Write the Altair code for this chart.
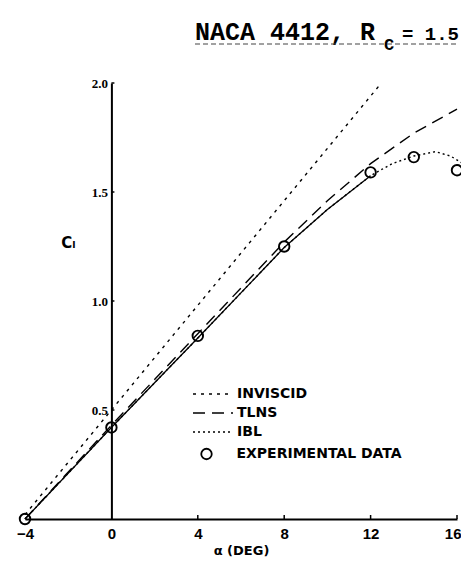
import altair as alt
import pandas as pd

# ---- data ----
alpha_exp = [-4, 0, 4, 8, 12, 14, 16]
cl_exp = [0.0, 0.42, 0.84, 1.25, 1.59, 1.66, 1.60]

alpha_inv = [-4, 12.5]
cl_inv = [0.02, 2.0]

alpha_tlns = [-4, 0, 4, 8, 10, 12, 14, 16]
cl_tlns = [0.0, 0.43, 0.85, 1.27, 1.46, 1.63, 1.77, 1.88]

alpha_ibl = [-4, 0, 4, 8, 10, 12, 13, 14, 15, 15.7, 16.2]
cl_ibl = [0.0, 0.42, 0.83, 1.245, 1.42, 1.575, 1.63, 1.665, 1.685, 1.665, 1.635]
ibl_solid_end = 12

x_label_vals = [-4, 0, 4, 8, 12, 16]
x_tick_vals = [4, 8, 12, 16]
y_tick_vals = [0.5, 1.0, 1.5, 2.0]
x_domain = [-4, 16]
y_domain = [0, 2.0]

series_names = ["INVISCID", "TLNS", "IBL"]
exp_name = "EXPERIMENTAL DATA"
title_main = "NACA 4412, R"
title_sub = "C"
title_tail = "= 1.5"

W, H = 432, 436

# ---- tables ----
rows = []
for name, xs, ys in [("INVISCID", alpha_inv, cl_inv), ("TLNS", alpha_tlns, cl_tlns), ("IBL", alpha_ibl, cl_ibl)]:
    for a, c in zip(xs, ys):
        rows.append({"alpha": a, "cl": c, "series": name})
lines_df = pd.DataFrame(rows)
exp_df = pd.DataFrame({"alpha": alpha_exp, "cl": cl_exp, "series": [exp_name] * len(alpha_exp)})

x_len = 4 / H * (y_domain[1] - y_domain[0])
y_len = 3 / W * (x_domain[1] - x_domain[0])
xt_df = pd.DataFrame({"alpha": x_tick_vals, "y0": [0] * len(x_tick_vals), "y1": [x_len] * len(x_tick_vals)})
yt_df = pd.DataFrame({"a0": [0] * len(y_tick_vals), "a1": [y_len] * len(y_tick_vals), "cl": y_tick_vals})

zero_px = (0 - x_domain[0]) / (x_domain[1] - x_domain[0]) * W

xscale = alt.Scale(domain=x_domain, nice=False, zero=False)
yscale = alt.Scale(domain=y_domain, nice=False, zero=False)

last_label = "datum.value === %s" % x_label_vals[-1]
x_axis = alt.Axis(values=x_label_vals, ticks=False, grid=False, domainColor="black",
                  domainWidth=2, labelFont="Liberation Sans", labelFontWeight="bold", labelFontSize=15,
                  labelColor="black", labelPadding=7, title="α (DEG)", titleFont="DejaVu Sans",
                  titleFontWeight="bold", titleFontSize=13, titleColor="black", titlePadding=3,
                  labelFlush=False,
                  labelAlign={"condition": {"test": last_label, "value": "right"}, "value": "center"},
                  labelOffset={"condition": {"test": last_label, "value": 4}, "value": 0})
y_axis = alt.Axis(values=y_tick_vals, format=".1f", ticks=False, grid=False, domainColor="black",
                  domainWidth=2, offset=-zero_px, labelFont="Liberation Serif", labelFontWeight="bold",
                  labelFontSize=13, labelColor="black", labelPadding=4, title="Cₗ",
                  titleFont="DejaVu Sans", titleFontSize=15, titleFontWeight="bold", titleColor="black",
                  titleAngle=0, titleAlign="center", titleBaseline="middle",
                  titleX=43 - zero_px, titleY=159, labelFlush=False)

X = alt.X("alpha:Q", scale=xscale, axis=x_axis)
Y = alt.Y("cl:Q", scale=yscale, axis=y_axis)

lines = alt.Chart(lines_df).mark_line(color="black", strokeWidth=1.4).encode(
    x=X, y=Y,
    strokeDash=alt.StrokeDash(
        "series:N", title=None,
        scale=alt.Scale(domain=series_names, range=[[3, 5], [12, 7], [2, 3]]),
        legend=alt.Legend(orient="none", legendX=181, legendY=304, padding=0,
                          symbolType="M-4,0H4", symbolSize=100, symbolStrokeWidth=1.4,
                          symbolStrokeColor="black", labelFont="DejaVu Sans", labelFontWeight="bold",
                          labelFontSize=14, labelColor="black", labelOffset=17, rowPadding=5,
                          labelLimit=300)),
    order="alpha:Q",
)

ibl_solid = alt.Chart(lines_df).transform_filter(
    (alt.datum.series == "IBL") & (alt.datum.alpha <= ibl_solid_end)
).mark_line(color="black", strokeWidth=1.3).encode(x=X, y=Y, order="alpha:Q")

points = alt.Chart(exp_df).mark_point(filled=False, size=110, strokeWidth=1.9, color="black", opacity=1).encode(
    x=X, y=Y,
    shape=alt.Shape(
        "series:N", title=None,
        scale=alt.Scale(domain=[exp_name], range=["circle"]),
        legend=alt.Legend(orient="none", legendX=174.5, legendY=364, padding=0,
                          symbolSize=110, symbolStrokeWidth=1.8, symbolStrokeColor="black",
                          symbolFillColor="transparent", labelFont="DejaVu Sans", labelFontWeight="bold",
                          labelFontSize=14, labelColor="black", labelOffset=23, labelLimit=300)),
)

xticks = alt.Chart(xt_df).mark_rule(color="black", strokeWidth=1.5).encode(
    x=X, y=alt.Y("y0:Q", scale=yscale, axis=y_axis), y2="y1:Q")
yticks = alt.Chart(yt_df).mark_rule(color="black", strokeWidth=1.5).encode(
    x=alt.X("a0:Q", scale=xscale, axis=x_axis), x2="a1:Q", y=Y)

t1 = alt.Chart(pd.DataFrame({"t": [title_main]})).mark_text(
    align="left", baseline="alphabetic", font="Liberation Mono", fontWeight="bold", fontSize=25, color="black"
).encode(text="t:N", x=alt.value(170), y=alt.value(-43))
t2 = alt.Chart(pd.DataFrame({"t": [title_sub]})).mark_text(
    align="left", baseline="alphabetic", font="Liberation Mono", fontWeight="bold", fontSize=17, color="black"
).encode(text="t:N", x=alt.value(359), y=alt.value(-33))
t3 = alt.Chart(pd.DataFrame({"t": [title_tail]})).mark_text(
    align="left", baseline="alphabetic", font="Liberation Mono", fontWeight="bold", fontSize=19, color="black"
).encode(text="t:N", x=alt.value(377), y=alt.value(-43))
uline = alt.Chart(pd.DataFrame({"t": [0]})).mark_rule(color="#444", strokeWidth=1.2, strokeDash=[5, 3]).encode(
    x=alt.value(170), x2=alt.value(434), y=alt.value(-39))

chart = alt.layer(lines, ibl_solid, points, xticks, yticks, t1, t2, t3, uline).properties(
    width=W, height=H,
    autosize=alt.AutoSizeParams(type="none"),
    padding={"left": 17, "top": 75, "right": 4, "bottom": 44},
    background="white",
).configure_view(stroke=None)

chart.save("out.html", embed_options={"renderer": "svg", "actions": False})
